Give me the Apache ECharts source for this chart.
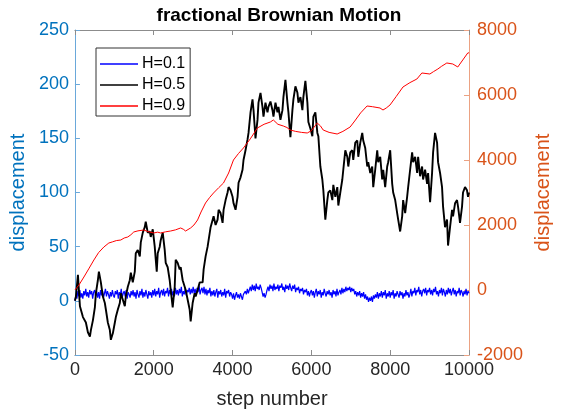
<!DOCTYPE html>
<html>
<head>
<meta charset="utf-8">
<script src="https://cdn.jsdelivr.net/npm/echarts@6/dist/echarts.min.js"></script>
<style>
html,body{margin:0;padding:0;background:#fff;}
#c{width:562px;height:415px;}
</style>
</head>
<body>
<div id="c"></div>
<script>
// ---- data ----
const seriesNames = ['H=0.1', 'H=0.5', 'H=0.9'];
const xTicks = [0, 2000, 4000, 6000, 8000, 10000];
const leftTicks = [-50, 0, 50, 100, 150, 200, 250];
const rightTicks = [-2000, 0, 2000, 4000, 6000, 8000];

// H=0.1 sampled every 25 steps (left axis)
const h01Step = 25;
const h01 = [
 0, 5, 2, 9, 4, 10, 3, 7, 2, 9, 5, 11, 4, 8, 3, 10, 6, 9, 2, 8,
 10, 4, 9, 3, 8, 2, 10, 5, 9, 3, 7, 11, 4, 9, 6, 2, 8, 4, 10, 5,
 3, 9, 6, 10, 2, 8, 5, 11, 3, 7, 9, 4, 10, 2, 8, 6, 3, 9, 5, 10,
 4, 8, 2, 10, 6, 3, 9, 5, 11, 3, 8, 4, 10, 6, 2, 9, 5, 8, 3, 10,
 5, 11, 4, 9, 6, 12, 3, 8, 10, 5, 11, 4, 9, 7, 12, 4, 10, 6, 11, 5,
 9, 4, 12, 6, 10, 5, 11, 7, 13, 4, 9, 6, 12, 5, 10, 8, 12, 6, 11, 7,
 13, 7, 11, 5, 12, 8, 14, 6, 10, 12, 7, 13, 6, 11, 5, 10, 7, 12, 4, 9,
 5, 10, 4, 8, 11, 3, 9, 6, 10, 4, 8, 5, 11, 3, 9, 7, 10, 4, 8, 6,
 2, 7, 1, 5, 8, 3, 6, 2, 7, 4, 1, 6, 5, 9, 6, 11, 7, 10, 13, 9,
 15, 10, 14, 9, 16, 11, 13, 10, 15, 12, 8, 4, 7, 3, 6, 10, 13, 9, 15, 11,
 14, 9, 16, 10, 13, 11, 15, 9, 14, 12, 16, 10, 13, 8, 15, 11, 14, 10, 16, 12,
 9, 14, 11, 15, 8, 12, 10, 13, 7, 11, 9, 12, 6, 10, 8, 11, 5, 9, 4, 8,
 10, 5, 9, 3, 8, 11, 4, 9, 6, 10, 3, 8, 5, 11, 7, 4, 9, 6, 10, 5,
 8, 3, 10, 6, 9, 4, 11, 5, 8, 10, 6, 12, 7, 11, 8, 13, 9, 12, 10, 13,
 8, 12, 9, 11, 6, 9, 4, 8, 5, 9, 3, 7, 4, 8, 2, 6, 1, 4, -1, 3,
 0, 4, -1, 5, 2, 6, 3, 8, 2, 7, 4, 9, 3, 8, 5, 10, 2, 7, 4, 9,
 3, 8, 5, 10, 2, 7, 4, 9, 6, 3, 9, 5, 8, 2, 7, 4, 10, 5, 8, 3,
 6, 11, 4, 9, 7, 12, 5, 10, 8, 13, 6, 10, 4, 9, 11, 7, 12, 5, 10, 8,
 12, 6, 10, 5, 11, 8, 13, 6, 9, 4, 10, 7, 12, 5, 11, 8, 4, 10, 6, 12,
 7, 11, 5, 9, 12, 6, 10, 4, 9, 7, 12, 5, 10, 8, 4, 9, 6, 11, 5, 9,
 7
];

// H=0.5 [step, displacement] (left axis)
const h05 = [
 [0,0],[25,4],[76,24],[127,-5],[203,-15],[278,-20],[329,-29],[380,-33],[405,-27],[456,-18],
 [506,-6],[532,7],[582,19],[608,27],[658,17],[709,4],[759,-2],[785,-8],[835,-20],[886,-27],
 [911,-36],[962,-30],[1013,-20],[1038,-15],[1089,-8],[1139,-2],[1165,7],[1215,1],[1266,-5],[1291,4],
 [1342,13],[1392,19],[1418,26],[1468,17],[1519,27],[1544,44],[1595,47],[1646,41],[1671,54],[1722,63],
 [1772,68],[1797,73],[1848,63],[1899,64],[1924,59],[1975,66],[2025,50],[2051,38],[2076,27],[2101,44],
 [2152,50],[2177,56],[2228,63],[2278,47],[2304,35],[2354,31],[2405,19],[2430,10],[2481,-6],[2532,13],
 [2557,38],[2608,35],[2658,29],[2684,31],[2734,19],[2785,13],[2810,10],[2861,1],[2911,-8],[2937,-19],
 [2987,-2],[3038,7],[3063,4],[3114,10],[3165,17],[3190,18],[3241,17],[3266,29],[3316,41],[3367,50],
 [3443,68],[3519,78],[3570,70],[3620,75],[3646,84],[3696,81],[3747,72],[3772,84],[3823,93],[3873,100],
 [3899,105],[3949,102],[4000,96],[4025,90],[4076,84],[4127,96],[4152,109],[4203,114],[4253,121],[4278,130],
 [4329,139],[4380,149],[4405,155],[4456,174],[4506,186],[4532,176],[4582,150],[4633,167],[4658,183],[4709,192],
 [4759,179],[4785,170],[4835,183],[4886,174],[4911,179],[4962,184],[5013,176],[5038,170],[5089,183],[5139,174],
 [5165,179],[5215,167],[5266,176],[5291,188],[5342,204],[5392,183],[5418,174],[5468,151],[5519,176],[5544,186],
 [5595,198],[5646,192],[5671,183],[5722,188],[5772,176],[5797,188],[5848,203],[5899,183],[5924,165],[5975,159],
 [6025,152],[6051,170],[6101,174],[6152,155],[6177,152],[6228,124],[6278,112],[6304,102],[6354,75],[6405,93],
 [6430,100],[6481,102],[6532,93],[6557,107],[6608,96],[6658,105],[6684,88],[6734,100],[6785,112],[6810,121],
 [6861,139],[6911,133],[6937,124],[6987,137],[7038,139],[7063,130],[7114,146],[7165,148],[7190,133],[7241,146],
 [7291,155],[7316,148],[7367,141],[7418,124],[7443,128],[7494,118],[7544,124],[7570,105],[7620,121],[7671,139],
 [7696,128],[7747,133],[7797,112],[7823,121],[7873,105],[7924,124],[7949,128],[8000,139],[8051,108],[8076,100],
 [8127,93],[8177,81],[8203,75],[8253,64],[8304,78],[8329,93],[8380,81],[8430,96],[8456,105],[8506,121],
 [8557,137],[8582,128],[8633,133],[8684,118],[8709,133],[8759,115],[8810,124],[8835,112],[8886,121],[8937,108],
 [8962,118],[9013,91],[9063,118],[9089,137],[9139,155],[9190,146],[9215,128],[9266,118],[9316,105],[9342,87],
 [9392,68],[9443,75],[9468,51],[9519,68],[9570,84],[9595,78],[9646,90],[9696,93],[9722,87],[9772,72],
 [9823,87],[9848,100],[9899,105],[9949,102],[9975,96],[10000,100]
];

// H=0.9 [step, displacement] (right axis)
const h09 = [
 [0,0],[100,150],[228,400],[350,650],[481,923],[600,1150],[734,1323],[860,1446],[950,1480],[1050,1520],
 [1164,1538],[1250,1600],[1341,1631],[1420,1700],[1493,1785],[1600,1820],[1746,1846],[1850,1800],[1999,1754],[2100,1780],
 [2176,1754],[2300,1790],[2429,1815],[2550,1850],[2682,1908],[2750,1870],[2808,1815],[2935,1908],[3020,2000],[3112,2154],
 [3200,2400],[3314,2677],[3420,2850],[3517,2985],[3650,3150],[3770,3292],[3900,3600],[4023,4000],[4150,4200],[4276,4369],
 [4450,4650],[4630,4985],[4800,5100],[4959,5169],[5035,5231],[5150,5100],[5288,5046],[5380,5000],[5465,4923],[5600,4880],
 [5750,4850],[5895,4831],[6000,4900],[6148,5138],[6230,5050],[6300,4923],[6450,4850],[6654,4800],[6800,4880],[6983,5015],
 [7100,5200],[7250,5450],[7413,5662],[7550,5640],[7742,5600],[7818,5538],[7900,5600],[7995,5692],[8150,5950],[8324,6246],
 [8500,6380],[8678,6492],[8804,6677],[9007,6646],[9100,6720],[9209,6800],[9300,6880],[9437,6985],[9589,6954],[9715,6862],
 [9842,7077],[9968,7292],[10000,7300]
];

const colors = ['#0000FF', '#000000', '#FF0000'];
const leftColor = '#0072BD';
const rightColor = '#D95319';

// ---- chart ----
const h01Data = h01.map((v, i) => [i * h01Step, v]);
const chart = echarts.init(document.getElementById('c'), null, {renderer: 'canvas'});
const font = 'Arial, "Liberation Sans", Helvetica, sans-serif';

chart.setOption({
  animation: false,
  backgroundColor: '#fff',
  textStyle: {fontFamily: font},
  title: {
    text: 'fractional Brownian Motion',
    left: 274, top: 1, textAlign: 'center',
    textStyle: {fontFamily: font, fontWeight: 'bold', fontSize: 19, color: '#000'}
  },
  grid: {left: 74, right: 93, top: 30, bottom: 60, containLabel: false},
  legend: {
    orient: 'vertical', left: 96, top: 48,
    data: seriesNames.map(n => ({name: n, icon: 'rect'})),
    itemWidth: 38, itemHeight: 1.5, itemGap: 5,
    padding: [8, 5, 2, 4],
    borderColor: '#333', borderWidth: 1, backgroundColor: '#fff',
    textStyle: {fontFamily: font, fontSize: 16, color: '#000', padding: [0,0,0,-1]}
  },
  xAxis: [{
    type: 'value', min: 0, max: 10000, interval: 2000,
    name: 'step number', nameLocation: 'middle', nameGap: 34,
    nameTextStyle: {fontFamily: font, fontSize: 20, color: '#262626'},
    axisLine: {show: true, onZero: false, lineStyle: {color: '#8c8c8c', width: 1}},
    axisTick: {show: true, inside: true, length: 5, lineStyle: {color: '#8c8c8c'}},
    axisLabel: {margin: 6, fontFamily: font, fontSize: 18, color: '#262626',
      formatter: v => xTicks.includes(v) ? String(v) : ''},
    splitLine: {show: false}
  }, {
    type: 'value', min: 0, max: 10000, interval: 2000, position: 'top',
    axisLine: {show: true, onZero: false, lineStyle: {color: '#8c8c8c', width: 1}},
    axisTick: {show: true, inside: true, length: 5, lineStyle: {color: '#8c8c8c'}},
    axisLabel: {show: false}, splitLine: {show: false}
  }],
  yAxis: [{
    type: 'value', min: -50, max: 250, interval: 50, position: 'left',
    name: 'displacement', nameLocation: 'middle', nameGap: 42,
    nameTextStyle: {fontFamily: font, fontSize: 20, color: leftColor},
    axisLine: {show: true, onZero: false, lineStyle: {color: '#6aa8da', width: 1}},
    axisTick: {show: true, inside: true, length: 5, lineStyle: {color: '#6aa8da'}},
    axisLabel: {margin: 6, fontFamily: font, fontSize: 18, color: leftColor,
      formatter: v => leftTicks.includes(v) ? String(v) : ''},
    splitLine: {show: false}
  }, {
    type: 'value', min: -2000, max: 8000, interval: 2000, position: 'right',
    name: 'displacement', nameLocation: 'middle', nameGap: 64,
    nameTextStyle: {fontFamily: font, fontSize: 20, color: rightColor},
    axisLine: {show: true, onZero: false, lineStyle: {color: '#eba283', width: 1}},
    axisTick: {show: true, inside: true, length: 5, lineStyle: {color: '#eba283'}},
    axisLabel: {margin: 8, fontFamily: font, fontSize: 18, color: rightColor,
      formatter: v => rightTicks.includes(v) ? String(v) : ''},
    splitLine: {show: false}
  }],
  series: [{
    name: seriesNames[0], type: 'line', yAxisIndex: 0, data: h01Data,
    symbol: 'none', showSymbol: false, color: colors[0],
    lineStyle: {color: colors[0], width: 1.2}, z: 2
  }, {
    name: seriesNames[1], type: 'line', yAxisIndex: 0, data: h05,
    symbol: 'none', showSymbol: false, color: colors[1],
    lineStyle: {color: colors[1], width: 1.9}, z: 3
  }, {
    name: seriesNames[2], type: 'line', yAxisIndex: 1, data: h09,
    symbol: 'none', showSymbol: false, color: colors[2],
    lineStyle: {color: colors[2], width: 1}, z: 4
  }]
});
</script>
</body>
</html>
